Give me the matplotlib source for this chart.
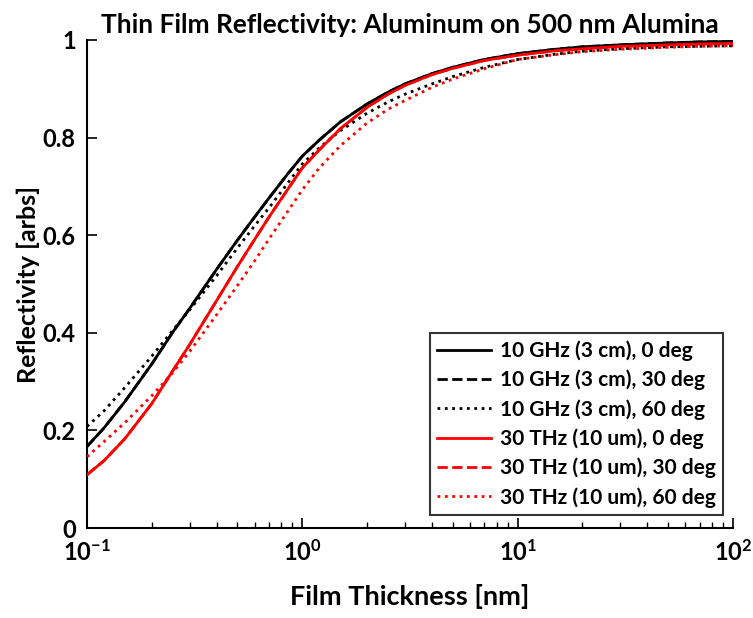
import matplotlib
matplotlib.use('Agg')
import matplotlib.pyplot as plt
from matplotlib.ticker import FixedLocator, FuncFormatter, LogLocator, NullFormatter

plt.rcParams['font.family'] = ['Lato', 'DejaVu Sans']
plt.rcParams['font.weight'] = 'bold'
plt.rcParams['mathtext.fontset'] = 'custom'
plt.rcParams['mathtext.rm'] = 'Lato:bold'
plt.rcParams['mathtext.bf'] = 'Lato:bold'
plt.rcParams['mathtext.default'] = 'bf'

# film thickness [nm]
thickness = [0.1, 0.12, 0.15, 0.2, 0.25, 0.3, 0.4, 0.5, 0.6, 0.7, 0.85, 1,
             1.2, 1.5, 2, 2.5, 3, 4, 5, 7, 10, 15, 20, 30, 50, 70, 100]

# reflectivity
ghz_0 = [0.167, 0.205, 0.259, 0.336, 0.401, 0.450, 0.530, 0.590, 0.637, 0.676,
         0.724, 0.762, 0.795, 0.832, 0.869, 0.893, 0.910, 0.931, 0.944, 0.960,
         0.972, 0.981, 0.986, 0.990, 0.994, 0.996, 0.997]
ghz_30 = ghz_0
ghz_60 = [0.208, 0.240, 0.288, 0.352, 0.405, 0.447, 0.517, 0.574, 0.619, 0.656,
          0.705, 0.746, 0.779, 0.814, 0.850, 0.873, 0.889, 0.910, 0.925, 0.944,
          0.960, 0.971, 0.977, 0.982, 0.986, 0.987, 0.988]
thz_0 = [0.109, 0.138, 0.183, 0.255, 0.322, 0.376, 0.466, 0.536, 0.591, 0.637,
         0.692, 0.738, 0.775, 0.818, 0.862, 0.889, 0.907, 0.929, 0.942, 0.958,
         0.969, 0.978, 0.982, 0.987, 0.990, 0.992, 0.993]
thz_30 = thz_0
thz_60 = [0.146, 0.177, 0.216, 0.271, 0.318, 0.362, 0.437, 0.497, 0.547, 0.592,
          0.647, 0.693, 0.738, 0.783, 0.830, 0.858, 0.876, 0.903, 0.920, 0.941,
          0.960, 0.970, 0.976, 0.981, 0.985, 0.987, 0.988]

series = [
    (ghz_0, 'k', '-', '10 GHz (3 cm), 0 deg', 3),
    (ghz_30, 'k', '--', '10 GHz (3 cm), 30 deg', 2),
    (ghz_60, 'k', ':', '10 GHz (3 cm), 60 deg', 3),
    (thz_0, 'r', '-', '30 THz (10 um), 0 deg', 3),
    (thz_30, 'r', '--', '30 THz (10 um), 30 deg', 2),
    (thz_60, 'r', ':', '30 THz (10 um), 60 deg', 3),
]

fig = plt.figure(figsize=(7.53, 6.18), dpi=100)
ax = fig.add_axes([0.1155, 0.1456, 0.8579, 0.7897])

for vals, color, ls, label, z in series:
    ax.plot(thickness, vals, color=color, linestyle=ls, linewidth=2.0,
            label=label, zorder=z)

ax.set_xscale('log')
ax.set_xlim(0.1, 100)
ax.set_ylim(0, 1)
ax.yaxis.set_major_locator(FixedLocator([0, 0.2, 0.4, 0.6, 0.8, 1]))
ax.yaxis.set_major_formatter(FuncFormatter(lambda v, p: '%g' % v))
ax.xaxis.set_minor_locator(LogLocator(base=10, subs=range(2, 10)))
ax.xaxis.set_minor_formatter(NullFormatter())

for s in ['top', 'right']:
    ax.spines[s].set_visible(False)
for s in ['left', 'bottom']:
    ax.spines[s].set_linewidth(1.5)
ax.tick_params(which='major', direction='in', length=7, width=1.2, labelsize=17, pad=8)
ax.tick_params(which='minor', direction='in', length=4, width=1.0)

ax.set_title('Thin Film Reflectivity: Aluminum on 500 nm Alumina', fontsize=19,
             fontweight='bold', pad=5)
ax.set_xlabel('Film Thickness [nm]', fontsize=19.5, fontweight='bold', labelpad=14)
ax.set_ylabel('Reflectivity [arbs]', fontsize=18, fontweight='bold', labelpad=2)

leg = ax.legend(loc='lower right', fontsize=15, frameon=True, fancybox=False,
                edgecolor='k', handlelength=2.6, handletextpad=0.4,
                borderpad=0.35, labelspacing=0.42, borderaxespad=0,
                bbox_to_anchor=(0.9845, 0.027))
leg.get_frame().set_linewidth(1.5)

fig.savefig('out.png', dpi=100)
plt.close()
